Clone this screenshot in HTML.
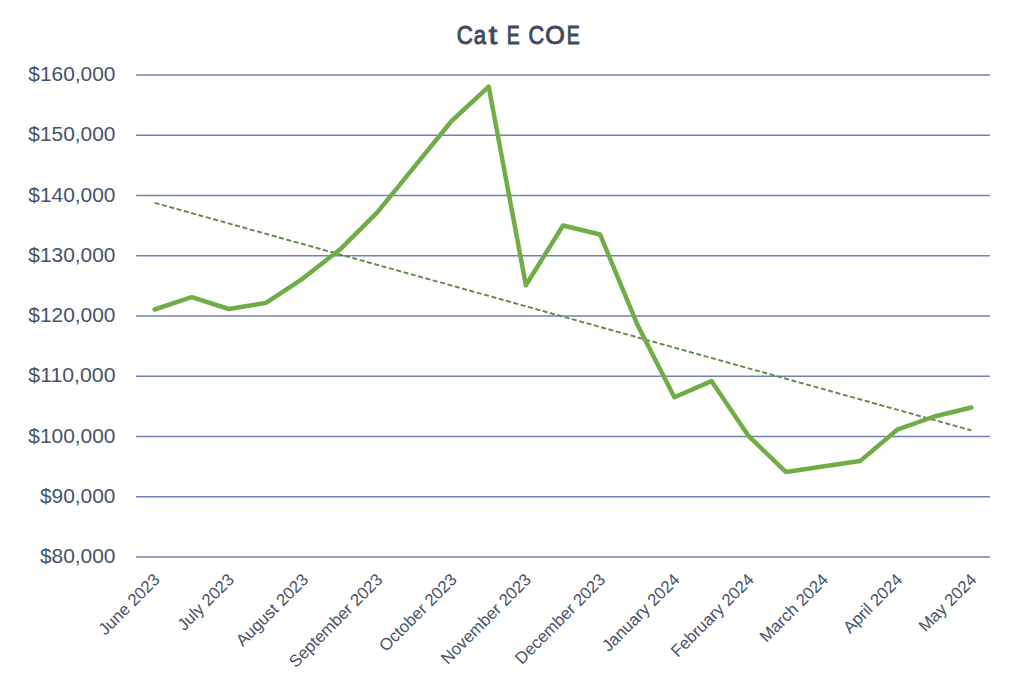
<!DOCTYPE html>
<html><head><meta charset="utf-8"><style>
html,body{margin:0;padding:0;background:#fff;}
svg{display:block;font-family:"Liberation Sans",sans-serif;}
</style></head><body>
<svg width="1024" height="683" viewBox="0 0 1024 683">
<rect width="1024" height="683" fill="#fff"/>
<text transform="translate(464.90 44.2) scale(0.840 1)" x="-0.11" y="0" text-anchor="middle" font-size="26.6" fill="#3F4A5E" stroke="#3F4A5E" stroke-width="1.0">C</text>
<text transform="translate(480.30 44.2) scale(0.831 1)" x="-0.61" y="0" text-anchor="middle" font-size="26.6" fill="#3F4A5E" stroke="#3F4A5E" stroke-width="1.0">a</text>
<text transform="translate(493.10 44.2) scale(1.128 1)" x="-0.10" y="0" text-anchor="middle" font-size="26.6" fill="#3F4A5E" stroke="#3F4A5E" stroke-width="1.0">t</text>
<text transform="translate(513.80 44.2) scale(0.730 1)" x="-0.79" y="0" text-anchor="middle" font-size="26.6" fill="#3F4A5E" stroke="#3F4A5E" stroke-width="1.0">E</text>
<text transform="translate(536.40 44.2) scale(0.816 1)" x="-0.11" y="0" text-anchor="middle" font-size="26.6" fill="#3F4A5E" stroke="#3F4A5E" stroke-width="1.0">C</text>
<text transform="translate(555.00 44.2) scale(0.943 1)" x="-0.12" y="0" text-anchor="middle" font-size="26.6" fill="#3F4A5E" stroke="#3F4A5E" stroke-width="1.0">O</text>
<text transform="translate(573.80 44.2) scale(0.730 1)" x="-0.79" y="0" text-anchor="middle" font-size="26.6" fill="#3F4A5E" stroke="#3F4A5E" stroke-width="1.0">E</text>
<line x1="136" y1="74.90" x2="990" y2="74.90" stroke="#7382AC" stroke-width="1.5"/>
<text x="115.5" y="81.00" text-anchor="end" font-size="20.7" fill="#465367" textLength="87.18" lengthAdjust="spacingAndGlyphs">$160,000</text>
<line x1="136" y1="135.15" x2="990" y2="135.15" stroke="#7382AC" stroke-width="1.5"/>
<text x="115.5" y="141.25" text-anchor="end" font-size="20.7" fill="#465367" textLength="87.18" lengthAdjust="spacingAndGlyphs">$150,000</text>
<line x1="136" y1="195.40" x2="990" y2="195.40" stroke="#7382AC" stroke-width="1.5"/>
<text x="115.5" y="201.50" text-anchor="end" font-size="20.7" fill="#465367" textLength="87.18" lengthAdjust="spacingAndGlyphs">$140,000</text>
<line x1="136" y1="255.65" x2="990" y2="255.65" stroke="#7382AC" stroke-width="1.5"/>
<text x="115.5" y="261.75" text-anchor="end" font-size="20.7" fill="#465367" textLength="87.18" lengthAdjust="spacingAndGlyphs">$130,000</text>
<line x1="136" y1="315.90" x2="990" y2="315.90" stroke="#7382AC" stroke-width="1.5"/>
<text x="115.5" y="322.00" text-anchor="end" font-size="20.7" fill="#465367" textLength="87.18" lengthAdjust="spacingAndGlyphs">$120,000</text>
<line x1="136" y1="376.15" x2="990" y2="376.15" stroke="#7382AC" stroke-width="1.5"/>
<text x="115.5" y="382.25" text-anchor="end" font-size="20.7" fill="#465367" textLength="87.18" lengthAdjust="spacingAndGlyphs">$110,000</text>
<line x1="136" y1="436.40" x2="990" y2="436.40" stroke="#7382AC" stroke-width="1.5"/>
<text x="115.5" y="442.50" text-anchor="end" font-size="20.7" fill="#465367" textLength="87.18" lengthAdjust="spacingAndGlyphs">$100,000</text>
<line x1="136" y1="496.65" x2="990" y2="496.65" stroke="#7382AC" stroke-width="1.5"/>
<text x="115.5" y="502.75" text-anchor="end" font-size="20.7" fill="#465367" textLength="75.56" lengthAdjust="spacingAndGlyphs">$90,000</text>
<line x1="136" y1="556.90" x2="990" y2="556.90" stroke="#7382AC" stroke-width="1.5"/>
<text x="115.5" y="563.00" text-anchor="end" font-size="20.7" fill="#465367" textLength="75.56" lengthAdjust="spacingAndGlyphs">$80,000</text>
<line x1="154.6" y1="202.8" x2="971.4" y2="430.4" stroke="#62884A" stroke-width="1.9" stroke-dasharray="5,2.6"/>
<polyline points="154.6,309.5 191.7,297.2 228.8,309.0 266.0,302.9 303.1,278.3 340.2,249.3 377.3,212.4 414.5,166.7 451.6,121.0 488.7,86.7 525.9,285.3 563.0,225.5 600.1,234.5 637.3,324.5 674.4,397.3 711.5,381.1 748.7,436.2 785.8,471.9 822.9,466.5 860.0,461.1 897.2,429.7 934.3,416.5 971.4,407.5" fill="none" stroke="#70AD47" stroke-width="4.5" stroke-linejoin="round" stroke-linecap="round"/>
<text x="160.8" y="580.7" text-anchor="end" font-size="16.8" fill="#465367" transform="rotate(-45 160.8 580.7)">June 2023</text>
<text x="235.0" y="580.7" text-anchor="end" font-size="16.8" fill="#465367" transform="rotate(-45 235.0 580.7)">July 2023</text>
<text x="309.3" y="580.7" text-anchor="end" font-size="16.8" fill="#465367" transform="rotate(-45 309.3 580.7)">August 2023</text>
<text x="383.5" y="580.7" text-anchor="end" font-size="16.8" fill="#465367" transform="rotate(-45 383.5 580.7)">September 2023</text>
<text x="457.8" y="580.7" text-anchor="end" font-size="16.8" fill="#465367" transform="rotate(-45 457.8 580.7)">October 2023</text>
<text x="532.1" y="580.7" text-anchor="end" font-size="16.8" fill="#465367" transform="rotate(-45 532.1 580.7)">November 2023</text>
<text x="606.3" y="580.7" text-anchor="end" font-size="16.8" fill="#465367" transform="rotate(-45 606.3 580.7)">December 2023</text>
<text x="680.6" y="580.7" text-anchor="end" font-size="16.8" fill="#465367" transform="rotate(-45 680.6 580.7)">January 2024</text>
<text x="754.9" y="580.7" text-anchor="end" font-size="16.8" fill="#465367" transform="rotate(-45 754.9 580.7)">February 2024</text>
<text x="829.1" y="580.7" text-anchor="end" font-size="16.8" fill="#465367" transform="rotate(-45 829.1 580.7)">March 2024</text>
<text x="903.4" y="580.7" text-anchor="end" font-size="16.8" fill="#465367" transform="rotate(-45 903.4 580.7)">April 2024</text>
<text x="977.6" y="580.7" text-anchor="end" font-size="16.8" fill="#465367" transform="rotate(-45 977.6 580.7)">May 2024</text>
</svg></body></html>
